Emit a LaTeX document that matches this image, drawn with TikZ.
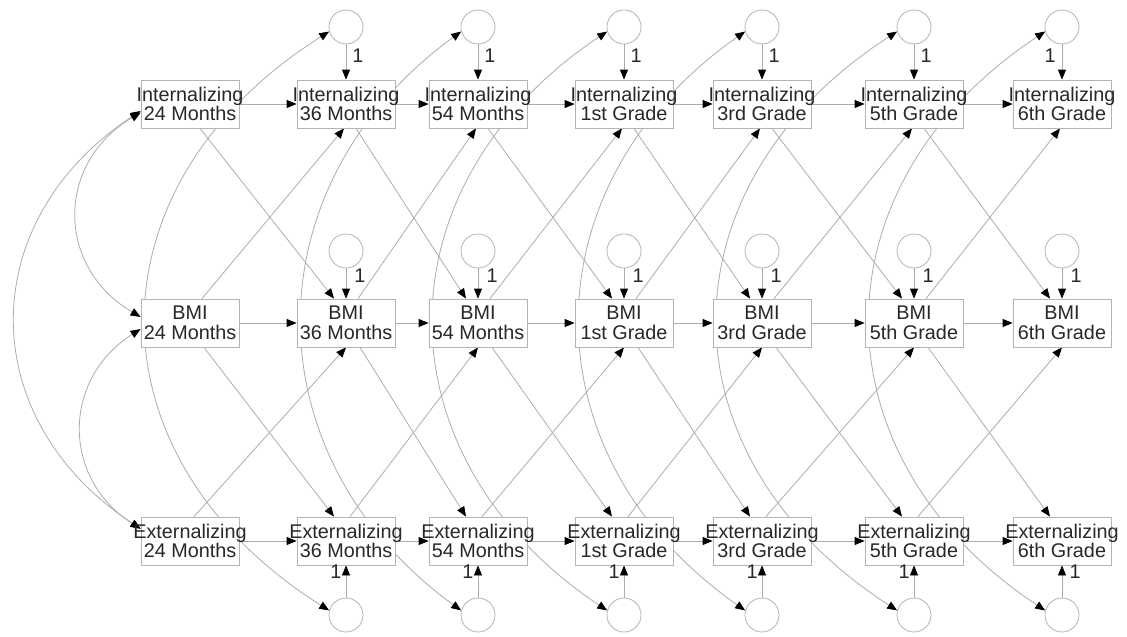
\documentclass[tikz,border=0pt]{standalone}
\usepackage{fontspec}
\setmainfont{Liberation Sans}
\usetikzlibrary{arrows.meta,backgrounds}
\definecolor{ln}{RGB}{172,172,172}
\definecolor{bx}{RGB}{180,180,180}
\definecolor{tx}{RGB}{40,40,40}
\newcommand\twoline[2]{\makebox[0pt]{#1}\\\makebox[0pt]{#2}}
\begin{document}
\begin{tikzpicture}[x=1pt,y=-1pt,
  box/.style={draw=bx,fill=white,line width=0.8pt,minimum width=98pt,minimum height=48pt,inner sep=0pt,align=center,font=\fontsize{19.8}{19.5}\selectfont,text=tx},
  res/.style={circle,draw=bx,fill=white,line width=0.8pt,minimum size=34pt,inner sep=0pt},
  one/.style={font=\fontsize{19.8}{20}\selectfont,text=tx,inner sep=0pt},
  pth/.style={draw=ln,line width=0.8pt,-{Triangle[length=10pt,width=8pt,color=black]}},
  cov/.style={draw=ln,line width=0.8pt,{Triangle[length=10pt,width=8pt,color=black]}-{Triangle[length=10pt,width=8pt,color=black]}}]
\useasboundingbox (0,0) rectangle (1127,637);
% boxes
\foreach \k/\x/\t in {1/190/24 Months,2/346/36 Months,3/478/54 Months,4/624/1st Grade,5/762/3rd Grade,6/914/5th Grade,7/1062/6th Grade}{
  \node[box] (i\k) at (\x,104) {\twoline{Internalizing}{\t}};
  \node[box] (m\k) at (\x,323) {\twoline{BMI}{\t}};
  \node[box] (e\k) at (\x,541) {\twoline{Externalizing}{\t}};
}
% residual circles
\foreach \k/\x in {2/346,3/478,4/624,5/762,6/914,7/1062}{
  \node[res] (t\k) at (\x,27) {};
  \node[res] (s\k) at (\x,251) {};
  \node[res] (b\k) at (\x,615) {};
  \node[one] (os\k) at (\x+14,276) {1};
}
\foreach \k/\x in {2/346,3/478,4/624,5/762,6/914}{
  \node[one] (ot\k) at (\x+12,56) {1};
  \node[one] (ob\k) at (\x-10,572) {1};
}
\node[one] (ot7) at (1050,56) {1};
\node[one] (ob7) at (1075,572) {1};
\begin{scope}[on background layer]
% residual paths
\foreach \k in {2,...,7}{
  \draw[pth] (t\k) -- (i\k);
  \draw[pth] (s\k) -- (m\k);
  \draw[pth] (b\k) -- (e\k);
}
% autoregressive and cross-lagged paths
\foreach \a/\b in {1/2,2/3,3/4,4/5,5/6,6/7}{
  \draw[pth] (i\a) -- (i\b);
  \draw[pth] (m\a) -- (m\b);
  \draw[pth] (e\a) -- (e\b);
  \draw[pth] ([xshift=10pt]i\a.south) -- ([xshift=-12pt]m\b.north);
  \draw[pth] ([xshift=12pt]m\a.north) -- ([xshift=-2pt]i\b.south);
  \draw[pth] ([xshift=14pt]m\a.south) -- ([xshift=-12pt]e\b.north);
  \draw[pth] ([xshift=4pt]e\a.north) -- (m\b.south);
}
% residual covariances
\foreach \k/\d in {2/-244,3/-212,4/-231,5/-220,6/-239,7/-233}{
  \draw[cov] (t\k.195) .. controls +(\d,154) and +(\d,-154) .. (b\k.165);
}
% exogenous covariances
\draw[cov] (i1.188) .. controls +(-167,110) and +(-167,-110) .. (e1.166);
\draw[cov] (i1.190) .. controls +(-85,50) and +(-85,-50) .. (m1.173);
\draw[cov] (m1.187) .. controls +(-79,50) and +(-79,-50) .. (e1.166);
\end{scope}
\end{tikzpicture}
\end{document}
